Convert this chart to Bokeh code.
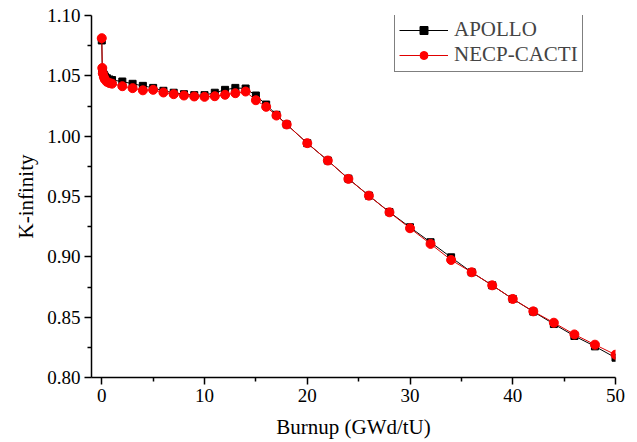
from bokeh.plotting import figure
from bokeh.models import Range1d, FixedTicker, NumeralTickFormatter, Legend, LegendItem
from bokeh.embed import file_html
from bokeh.resources import INLINE

burnup = [0, 0.05, 0.1, 0.2, 0.3, 0.5, 0.75, 1,
          2, 3, 4, 5, 6, 7, 8, 9, 10, 11, 12, 13, 14, 15, 16, 17, 18,
          20, 22, 24, 26, 28, 30, 32, 34, 36, 38, 40, 42, 44, 46, 48, 50]

apollo = [1.0793, 1.0550, 1.0530, 1.0510, 1.0495, 1.0480, 1.0470, 1.0465,
          1.0453, 1.0434, 1.0417, 1.0400, 1.0376, 1.0360, 1.0348, 1.0340, 1.0340,
          1.0360, 1.0384, 1.0400, 1.0395, 1.0337, 1.0262, 1.0177, 1.0097,
          0.9942, 0.9798, 0.9648, 0.9507, 0.9371, 0.9245, 0.9121, 0.8996,
          0.8872, 0.8764, 0.8651, 0.8546, 0.8443, 0.8344, 0.8258, 0.8164]

necp = [1.0812, 1.0565, 1.0520, 1.0490, 1.0470, 1.0450, 1.0440, 1.0435,
        1.0414, 1.0398, 1.0380, 1.0384, 1.0362, 1.0348, 1.0337, 1.0329, 1.0326,
        1.0331, 1.0343, 1.0356, 1.0370, 1.0298, 1.0243, 1.0171, 1.0097,
        0.9942, 0.9798, 0.9646, 0.9507, 0.9369, 0.9237, 0.9107, 0.8974,
        0.8872, 0.8764, 0.8651, 0.8548, 0.8454, 0.8357, 0.8272, 0.8189]

x_ticks = [0, 10, 20, 30, 40, 50]
x_minor = [5, 15, 25, 35, 45]
y_ticks = [0.80, 0.85, 0.90, 0.95, 1.00, 1.05, 1.10]
y_minor = [0.825, 0.875, 0.925, 0.975, 1.025, 1.075]

FONT = "Liberation Serif"

p = figure(width=629, height=441, output_backend="svg", toolbar_location=None,
           x_range=Range1d(-1, 50), y_range=Range1d(0.80, 1.10),
           min_border_left=91, min_border_right=14, min_border_top=15, min_border_bottom=64)
p.outline_line_color = None
p.xgrid.visible = False
p.ygrid.visible = False
p.background_fill_color = "white"
p.border_fill_color = "white"

l1 = p.line(burnup, apollo, line_color="black", line_width=1)
m1 = p.scatter(burnup, apollo, marker="square", size=7, fill_color="black", line_color="black")
l2 = p.line(burnup, necp, line_color="#e00000", line_width=1)
m2 = p.scatter(burnup, necp, marker="circle", size=9, fill_color="#ff0000", line_color="#ff0000")

for ax in (p.xaxis[0], p.yaxis[0]):
    ax.axis_line_width = 1.5
    ax.major_tick_line_width = 1.5
    ax.minor_tick_line_width = 1.5
    ax.major_tick_in = 0
    ax.major_tick_out = 7
    ax.minor_tick_in = 0
    ax.minor_tick_out = 4
    ax.major_label_text_font = FONT
    ax.major_label_text_font_size = "19px"
    ax.major_label_text_color = "black"
    ax.axis_label_text_font = FONT
    ax.axis_label_text_font_size = "21px"
    ax.axis_label_text_font_style = "normal"
    ax.axis_label_text_color = "black"

p.xaxis.ticker = FixedTicker(ticks=x_ticks, minor_ticks=x_minor)
p.yaxis.ticker = FixedTicker(ticks=y_ticks, minor_ticks=y_minor)
p.yaxis.formatter = NumeralTickFormatter(format="0.00")
p.xaxis.axis_label = "Burnup (GWd/tU)"
p.yaxis.axis_label = "K-infinity"
p.xaxis.major_label_standoff = 4
p.yaxis.major_label_standoff = 4
p.xaxis.axis_label_standoff = 10
p.yaxis.axis_label_standoff = 6

legend = Legend(items=[LegendItem(label="APOLLO", renderers=[l1, m1]),
                       LegendItem(label="NECP-CACTI", renderers=[l2, m2])],
                location=(303, 305))
legend.border_line_color = "black"
legend.border_line_width = 1
legend.background_fill_alpha = 1
legend.label_text_font = FONT
legend.label_text_font_size = "21px"
legend.glyph_width = 49
legend.glyph_height = 20
legend.label_height = 20
legend.label_standoff = 6
legend.padding = 4
legend.spacing = 0
legend.margin = 0
p.add_layout(legend)

open("out.html", "w").write(file_html(p, INLINE))
